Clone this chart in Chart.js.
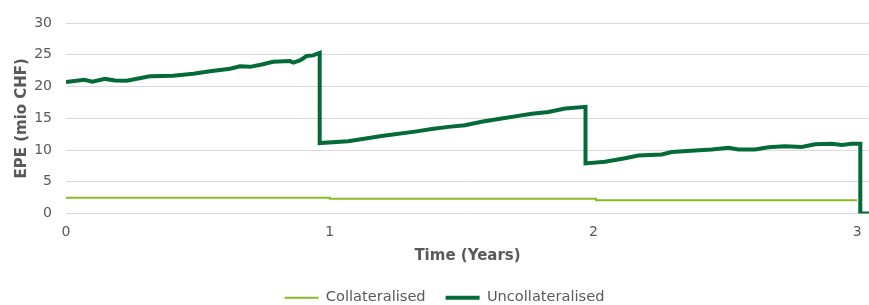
<!DOCTYPE html>
<html>
<head>
<meta charset="utf-8">
<script src="https://cdn.jsdelivr.net/npm/chart.js@4.4.1/dist/chart.umd.min.js"></script>
<style>
  html, body { margin: 0; padding: 0; background: #fff; }
  #wrap { width: 869px; height: 305px; }
</style>
</head>
<body>
<div id="wrap"><canvas id="chart_epe"></canvas></div>
<script>
// time in years, EPE in mio CHF
const collatTime = [0, 1.0, 1.0, 2.01, 2.01, 3.0];
const collatEpe = [2.5, 2.5, 2.35, 2.35, 2.1, 2.1];

const uncollatTime = [
  0, 0.07, 0.1, 0.148, 0.186, 0.23, 0.318, 0.406, 0.483, 0.546, 0.622, 0.66, 0.698,
  0.747, 0.785, 0.85, 0.862, 0.887, 0.913, 0.937, 0.962,
  0.962, 1.07, 1.197, 1.323, 1.387, 1.45, 1.513, 1.576, 1.64, 1.703, 1.766, 1.829, 1.893, 1.97,
  1.97, 2.044, 2.12, 2.17, 2.259, 2.297, 2.385, 2.449, 2.512, 2.55, 2.613, 2.663, 2.727,
  2.79, 2.84, 2.904, 2.942, 2.98, 3.012,
  3.012, 3.045
];
const uncollatEpe = [
  20.7, 21.05, 20.75, 21.2, 20.95, 20.9, 21.6, 21.7, 22.0, 22.4, 22.8, 23.2, 23.1,
  23.5, 23.9, 24.0, 23.75, 24.1, 24.8, 24.9, 25.3,
  11.1, 11.4, 12.2, 12.9, 13.3, 13.65, 13.9, 14.45, 14.9, 15.3, 15.7, 16.0, 16.55, 16.8,
  7.9, 8.15, 8.7, 9.15, 9.3, 9.7, 9.95, 10.1, 10.35, 10.1, 10.1, 10.45, 10.6,
  10.5, 10.9, 11.0, 10.8, 11.0, 11.0,
  0, 0
];

const xTicks = [0, 1, 2, 3];

const toPoints = (xs, ys) => xs.map((x, i) => ({ x: x, y: ys[i] }));

Chart.defaults.font.family = "'DejaVu Sans', Verdana, sans-serif";
Chart.defaults.color = "#595959";

// legend sits a bit right of centre in the original
const legendNudge = {
  id: "legendNudge",
  afterLayout(chart) {
    if (chart.legend) {
      chart.legend.left += 10;
      chart.legend.right += 10;
    }
  },
};

const chart_epe = new Chart(document.getElementById("chart_epe"), {
  type: "line",
  data: {
    datasets: [
      {
        label: "Collateralised",
        data: toPoints(collatTime, collatEpe),
        borderColor: "#86bc25",
        backgroundColor: "#86bc25",
        borderWidth: 2,
        pointRadius: 0,
        tension: 0,
      },
      {
        label: "Uncollateralised",
        data: toPoints(uncollatTime, uncollatEpe),
        borderColor: "#046a38",
        backgroundColor: "#046a38",
        borderWidth: 4,
        pointRadius: 0,
        tension: 0,
      },
    ],
  },
  options: {
    responsive: true,
    maintainAspectRatio: false,
    animation: false,
    layout: { padding: { top: 23, right: 0, left: 0, bottom: -10 } },
    scales: {
      x: {
        type: "linear",
        min: 0,
        max: 3.045,
        afterBuildTicks: (scale) => {
          scale.ticks = xTicks.map((v) => ({ value: v }));
        },
        grid: { display: false },
        border: { display: false },
        ticks: { font: { size: 14 }, padding: 2, maxRotation: 0 },
        title: {
          display: true,
          text: "Time (Years)",
          font: { size: 15, weight: "bold" },
          padding: { top: 5, bottom: 5 },
        },
      },
      y: {
        min: 0,
        max: 30,
        afterFit: (scale) => {
          scale.width = 66;
        },
        ticks: { stepSize: 5, font: { size: 14 }, padding: 14 },
        grid: { color: "#d9d9d9", drawTicks: false },
        border: { display: false },
        title: {
          display: true,
          text: "EPE (mio CHF)",
          font: { size: 15, weight: "bold" },
          padding: { top: 13, bottom: 0 },
        },
      },
    },
    plugins: {
      legend: {
        position: "bottom",
        labels: {
          usePointStyle: true,
          pointStyle: "line",
          pointStyleWidth: 34,
          font: { size: 14.6 },
          padding: 20,
        },
      },
      tooltip: { enabled: false },
    },
  },
  plugins: [legendNudge],
});
</script>
</body>
</html>
